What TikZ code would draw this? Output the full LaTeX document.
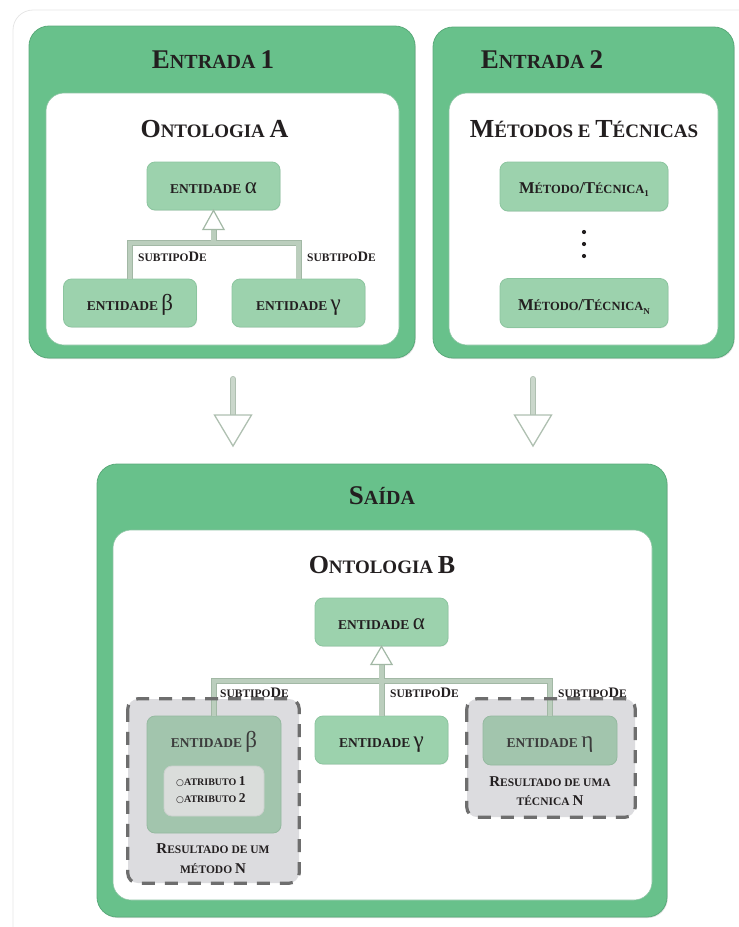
\documentclass[tikz,border=0pt]{standalone}
\usepackage{fontspec}
\setmainfont{Liberation Serif}
\newfontfamily\symfont{DejaVu Sans}
\usetikzlibrary{calc,shadows}

\definecolor{panelgreen}{HTML}{68C18B}
\definecolor{paneledge}{HTML}{5AAA7A}
\definecolor{entfill}{HTML}{9CD2AD}
\definecolor{entedge}{HTML}{8CC59F}
\definecolor{resfill}{HTML}{A2C5AD}
\definecolor{resedge}{HTML}{95B9A0}
\definecolor{dashfill}{HTML}{DCDCDF}
\definecolor{dashline}{HTML}{6E6E6E}
\definecolor{attrfill}{HTML}{DADDDB}
\definecolor{attredge}{HTML}{CBD1CD}
\definecolor{linkcol}{HTML}{BBCEBD}
\definecolor{linkedge}{HTML}{A2B8A5}
\definecolor{flowcol}{HTML}{CAD7CB}
\definecolor{flowedge}{HTML}{AFC0B1}
\definecolor{ink}{HTML}{231F20}
\definecolor{grayink}{HTML}{3C3C3C}
\definecolor{framecol}{HTML}{E6E6E6}

% size-switched capitals, used to imitate bold small caps
\newcommand\kap[2]{{\fontsize{#1}{#1}\selectfont #2}}
% Greek letter set in the regular weight
\newcommand\grk[1]{{\mdseries\fontsize{23}{23}\selectfont #1}}
% open bullet before an attribute
\newcommand\obul{{\symfont\mdseries\fontsize{9}{9}\selectfont ○}}

\begin{document}
\begin{tikzpicture}[x=1pt,y=-1pt,font=\bfseries,text=ink,
  panel/.style={rectangle,fill=panelgreen,draw=paneledge,line width=0.8pt,rounded corners=20pt,inner sep=0pt,
    drop shadow={shadow xshift=0.8pt,shadow yshift=-1pt,opacity=0.25}},
  innerpanel/.style={rectangle,fill=white,draw=paneledge!70,line width=0.6pt,rounded corners=18pt,inner sep=0pt},
  entity/.style={rectangle,rounded corners=8pt,fill=entfill,draw=entedge,line width=0.8pt,
    minimum width=133pt,minimum height=48pt,inner sep=0pt,text height=14pt,text depth=0pt,
    drop shadow={shadow xshift=0.6pt,shadow yshift=-0.8pt,opacity=0.15}},
  method/.style={entity,minimum width=168pt,minimum height=49pt},
  result/.style={rectangle,rounded corners=8pt,fill=resfill,draw=resedge,line width=0.8pt,inner sep=0pt,
    text height=14pt,text depth=0pt,text=grayink},
  attrbox/.style={rectangle,rounded corners=8pt,fill=attrfill,draw=attredge,line width=0.8pt,inner sep=0pt},
  dashbox/.style={rectangle,rounded corners=10pt,fill=dashfill,inner sep=0pt},
  dashrim/.style={draw=dashline,line width=3.2pt,dash pattern=on 13pt off 10pt,rounded corners=10pt},
  link/.style={draw=linkcol,line width=4.5pt,preaction={draw=linkedge,line width=6pt}},
  linkhead/.style={fill=white,draw=linkedge,line width=1.2pt,line join=miter},
  flowshaft/.style={draw=flowcol,line width=4.5pt,line cap=round,preaction={draw=flowedge,line width=6pt,line cap=round}},
  flowhead/.style={fill=white,draw=flowedge,line width=1.3pt,line join=miter},
  ttl/.style={inner sep=0pt,anchor=base},
  lbl/.style={inner sep=0pt,anchor=base west},
  dot/.style={fill=ink,draw=none}
]
\useasboundingbox (0,0) rectangle (739,927);

% faint page frame
\draw[framecol,line width=0.8pt,rounded corners=20pt] (13,10) rectangle (760,950);

% ---------- Entrada 1 ----------
\node[panel,minimum width=386pt,minimum height=332pt] (p1) at (222,192) {};
\node[innerpanel,minimum width=353pt,minimum height=252pt] (w1) at (222.5,219) {};
\node[ttl] (t1) at (213,68) {\kap{27}{E}\kap{20}{NTRADA }\kap{27}{1}};
\node[ttl] (o1) at (214.5,137) {\kap{26}{O}\kap{19}{NTOLOGIA }\kap{26}{A}};

\node[entity] (a1) at (213.5,186) {\kap{13.5}{ENTIDADE }\grk{α}};
\node[entity] (b1) at (130,303) {\kap{13.5}{ENTIDADE }\grk{β}};
\node[entity] (g1) at (298.5,303) {\kap{13.5}{ENTIDADE }\grk{γ}};
\coordinate (j1) at (213.5,243);
\coordinate (h1) at ($(a1.south)+(0,19)$);
\draw[link] (b1.north) |- (j1) -| (g1.north) (j1) -- (h1);
\draw[linkhead] (a1.south) -- ($(h1)+(10.5,0)$) -- ($(h1)+(-10.5,0)$) -- cycle;
\node[lbl] (l1) at (138,261) {\kap{11.5}{SUBTIPO}\kap{14.5}{D}\kap{11.5}{E}};
\node[lbl] (l2) at (307,261) {\kap{11.5}{SUBTIPO}\kap{14.5}{D}\kap{11.5}{E}};

% ---------- Entrada 2 ----------
\node[panel,minimum width=301pt,minimum height=331pt] (p2) at (583.5,192.5) {};
\node[innerpanel,minimum width=269pt,minimum height=252pt] (w2) at (583.5,219) {};
\node[ttl] (t2) at (542,68) {\kap{27}{E}\kap{20}{NTRADA }\kap{27}{2}};
\node[ttl] (o2) at (584,137) {\kap{26}{M}\kap{19}{ÉTODOS E }\kap{26}{T}\kap{19}{ÉCNICAS}};
\node[method] (m1) at (584,186.5) {\kap{16.5}{M}\kap{12.5}{ÉTODO}\kap{16.5}{/T}\kap{12.5}{ÉCNICA}\raisebox{-3pt}{\kap{9}{1}}};
\node[method] (mn) at (584,303) {\kap{16.5}{M}\kap{12.5}{ÉTODO}\kap{16.5}{/T}\kap{12.5}{ÉCNICA}\raisebox{-4pt}{\kap{9}{N}}};
\fill[dot] (584,232) circle (2.1pt) (584,244) circle (2.1pt) (584,256) circle (2.1pt);

% ---------- flow arrows into the output ----------
\coordinate (f1s) at (233,379);
\coordinate (f1t) at (233,446);
\coordinate (f2s) at (533,379);
\coordinate (f2t) at (533,446);
\draw[flowshaft] (f1s) -- ($(f1t)+(0,-31)$);
\draw[flowhead] (f1t) -- ($(f1t)+(-18.5,-31)$) -- ($(f1t)+(18.5,-31)$) -- cycle;
\draw[flowshaft] (f2s) -- ($(f2t)+(0,-31)$);
\draw[flowhead] (f2t) -- ($(f2t)+(-18.5,-31)$) -- ($(f2t)+(18.5,-31)$) -- cycle;

% ---------- Saída ----------
\node[panel,minimum width=570pt,minimum height=453pt] (p3) at (382,690.5) {};
\node[innerpanel,minimum width=539pt,minimum height=370pt] (w3) at (382.5,715) {};
\node[ttl] (t3) at (382,504) {\kap{27}{S}\kap{20}{AÍDA}};
\node[ttl] (o3) at (382,573) {\kap{26}{O}\kap{19}{NTOLOGIA }\kap{26}{B}};

\node[dashbox,minimum width=171pt,minimum height=184pt] (r1) at (213.5,791) {};
\node[dashbox,minimum width=168pt,minimum height=118pt] (r2) at (551,758) {};

\node[entity] (a2) at (381.5,622) {\kap{13.5}{ENTIDADE }\grk{α}};
\node[entity] (g2) at (381.5,740) {\kap{13.5}{ENTIDADE }\grk{γ}};

\node[result,minimum width=134pt,minimum height=117pt] (b2) at (214,774.5) {};
\node[ttl,text=grayink] (b2t) at (214,747) {\kap{13.5}{ENTIDADE }\grk{β}};
\node[attrbox,minimum width=100pt,minimum height=50pt] (at) at (214,791) {};
\node[lbl] (at1) at (176,785) {\obul\kap{10}{ATRIBUTO }\kap{13.5}{1}};
\node[lbl] (at2) at (176,802) {\obul\kap{10}{ATRIBUTO }\kap{13.5}{2}};
\node[ttl] (r1a) at (213,853) {\kap{15}{R}\kap{11.5}{ESULTADO DE UM}};
\node[ttl] (r1b) at (213,873) {\kap{11.5}{MÉTODO }\kap{15}{N}};

\node[result,minimum width=134pt,minimum height=49pt] (e2) at (550,740.5) {\kap{13.5}{ENTIDADE }\grk{η}};
\node[ttl] (r2a) at (550,786) {\kap{15}{R}\kap{11.5}{ESULTADO DE UMA}};
\node[ttl] (r2b) at (550,805) {\kap{11.5}{TÉCNICA }\kap{15}{N}};

\coordinate (j2) at (381.5,681);
\coordinate (h2) at ($(a2.south)+(0,18)$);
\draw[link] (b2.north) |- (j2) -| (e2.north) (g2.north) -- (j2) -- (h2);
\draw[linkhead] (a2.south) -- ($(h2)+(10.5,0)$) -- ($(h2)+(-10.5,0)$) -- cycle;

\draw[dashrim] (r1.north west) rectangle (r1.south east);
\draw[dashrim] (r2.north west) rectangle (r2.south east);

\node[lbl] (l3) at (220,697) {\kap{11.5}{SUBTIPO}\kap{14.5}{D}\kap{11.5}{E}};
\node[lbl] (l4) at (390,697) {\kap{11.5}{SUBTIPO}\kap{14.5}{D}\kap{11.5}{E}};
\node[lbl] (l5) at (558,697) {\kap{11.5}{SUBTIPO}\kap{14.5}{D}\kap{11.5}{E}};
\end{tikzpicture}
\end{document}
